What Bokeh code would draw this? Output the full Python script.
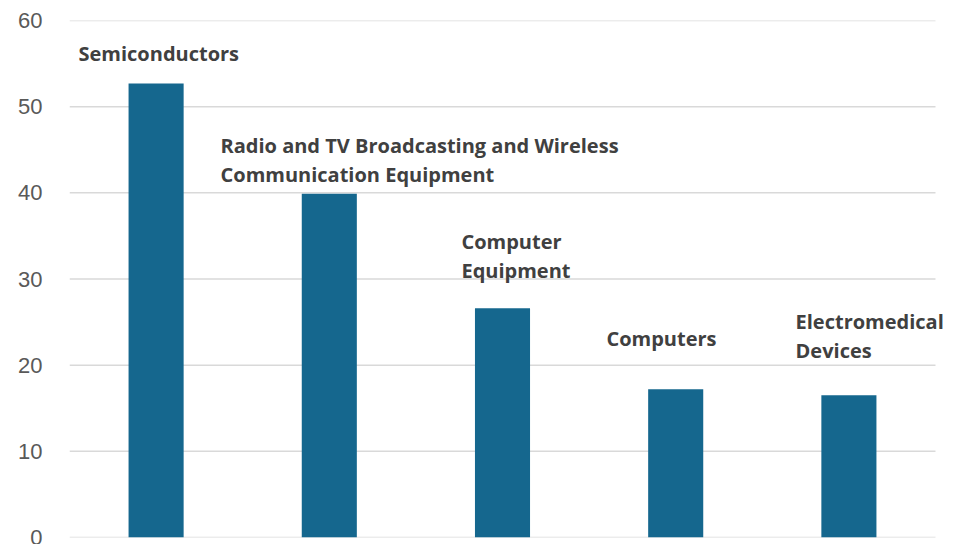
from bokeh.plotting import figure
from bokeh.models import ColumnDataSource, Range1d, FixedTicker, LabelSet
from bokeh.core.properties import value
from bokeh.embed import file_html
from bokeh.resources import INLINE

categories = ["Semiconductors",
              "Radio and TV Broadcasting and Wireless\nCommunication Equipment",
              "Computer\nEquipment",
              "Computers",
              "Electromedical\nDevices"]
values = [52.7, 39.9, 26.6, 17.2, 16.5]
y_ticks = [0, 10, 20, 30, 40, 50, 60]

# label placement (layout only)
label_x = [-0.448, 0.372, 1.763, 2.600, 3.692]
label_y = [56.2, 43.8, 32.7, 23.1, 23.4]
LINE_PX = 29

idx = list(range(len(categories)))
src = ColumnDataSource(dict(x=idx, top=values))

lx, ly, lt, lo = [], [], [], []
for cat, x, y in zip(categories, label_x, label_y):
    lines = cat.split("\n")
    n = len(lines)
    for i, line in enumerate(lines):
        lx.append(x)
        ly.append(y)
        lt.append(line)
        lo.append(((n - 1) / 2 - i) * LINE_PX)
lsrc = ColumnDataSource(dict(x=lx, y=ly, text=lt, off=lo))

W, LEFT = 948, 69
step_px = 866 / len(categories)
x_end = -0.5 + (W - LEFT) / step_px

p = figure(width=W, height=544, output_backend="svg", toolbar_location=None,
           x_range=Range1d(-0.5, x_end), y_range=Range1d(0, 60),
           min_border_left=LEFT, min_border_right=0, min_border_top=20, min_border_bottom=7)
p.outline_line_color = None
p.background_fill_color = "white"
p.border_fill_color = "white"

# horizontal gridlines spanning the category area only
gsrc = ColumnDataSource(dict(y=y_ticks, x0=[-0.5] * len(y_ticks),
                             x1=[len(categories) - 0.5] * len(y_ticks)))
p.segment(x0="x0", x1="x1", y0="y", y1="y", source=gsrc,
          line_color="#d9d9d9", line_width=1.5)

p.vbar(x="x", top="top", width=0.318, source=src, color="#15678E", line_color=None)

labels = LabelSet(x="x", y="y", text="text", y_offset="off", source=lsrc,
                  text_font=value("Open Sans"),
                  text_font_style="bold", text_font_size="20px", text_color="#404040",
                  text_baseline="middle", text_align="left")
p.add_layout(labels)

p.xaxis.visible = False
p.xgrid.visible = False
p.ygrid.visible = False
p.yaxis.ticker = FixedTicker(ticks=y_ticks)
p.yaxis.axis_line_color = None
p.yaxis.major_tick_line_color = None
p.yaxis.minor_tick_line_color = None
p.yaxis.major_label_text_font = "Liberation Sans"
p.yaxis.major_label_text_font_size = "22px"
p.yaxis.major_label_text_color = "#595959"
p.yaxis.major_label_standoff = 21

open("out.html", "w").write(file_html(p, INLINE))
